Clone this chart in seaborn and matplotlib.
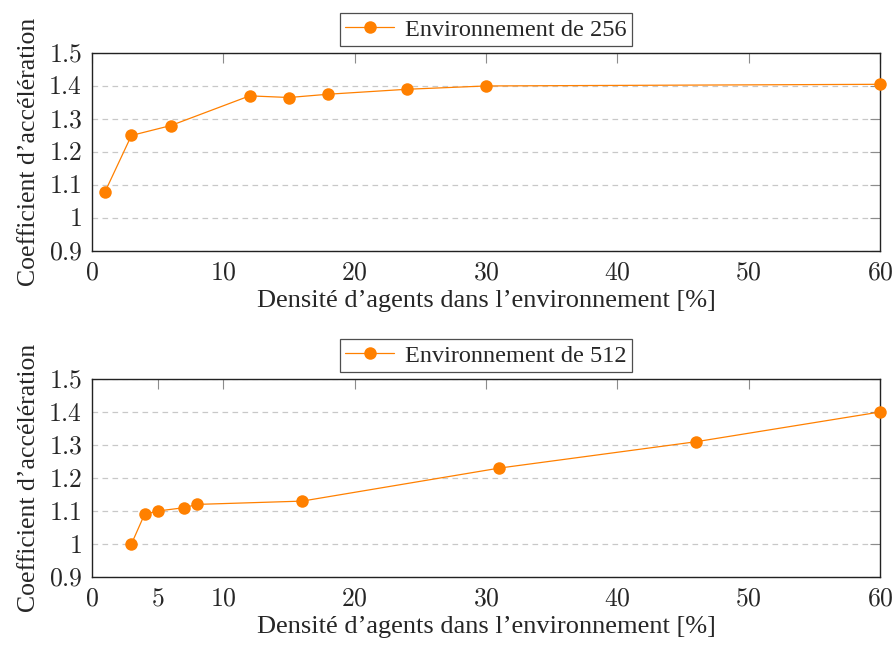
import numpy as np
import matplotlib
matplotlib.use("Agg")
import matplotlib.pyplot as plt
import matplotlib.ticker as mticker
import pandas as pd
import seaborn as sns

# data
x_256 = [1, 3, 6, 12, 15, 18, 24, 30, 60]
y_256 = [1.08, 1.25, 1.28, 1.37, 1.365, 1.375, 1.39, 1.40, 1.405]
x_512 = [3, 4, 5, 7, 8, 16, 31, 46, 60]
y_512 = [1.00, 1.09, 1.10, 1.11, 1.12, 1.13, 1.23, 1.31, 1.40]

labels = ["Environnement de 256", "Environnement de 512"]
xticks_top = [0, 10, 20, 30, 40, 50, 60]
xticks_bottom = [0, 5, 10, 20, 30, 40, 50, 60]
yticks = [0.9, 1.0, 1.1, 1.2, 1.3, 1.4, 1.5]
xlabel = "Densité d’agents dans l’environnement [%]"
ylabel = "Coefficient d’accélération"

sns.set_style("white")
plt.rcParams["font.family"] = ["Liberation Serif", "DejaVu Serif"]
plt.rcParams["mathtext.fontset"] = "cm"

orange = "#ff8000"
fig = plt.figure(figsize=(8.96, 6.45), dpi=100)
ax1 = fig.add_axes([0.1027, 0.6109, 0.8795, 0.307])
ax2 = fig.add_axes([0.1027, 0.1054, 0.8795, 0.307])

fmt = mticker.FuncFormatter(lambda v, p: "$%g$" % round(v, 2))

for ax, xs, ys, lab, xt in [(ax1, x_256, y_256, labels[0], xticks_top),
                            (ax2, x_512, y_512, labels[1], xticks_bottom)]:
    df = pd.DataFrame({"x": xs, "y": ys})
    sns.lineplot(data=df, x="x", y="y", ax=ax, color=orange, marker="o",
                 markersize=9, markeredgewidth=0, linewidth=0.9, label=lab,
                 clip_on=False, zorder=5)
    ax.set_xlim(0, 60)
    ax.set_ylim(0.9, 1.5)
    ax.set_xticks(xt)
    ax.set_yticks(yticks)
    ax.xaxis.set_major_formatter(fmt)
    ax.yaxis.set_major_formatter(fmt)
    ax.tick_params(direction="in", length=7, width=0.8, color="#8c8c8c",
                   top=True, right=True, labelsize=18.5)
    ax.tick_params(axis="y", pad=7)
    ax.tick_params(axis="x", pad=8)
    ax.yaxis.grid(True, linestyle=(0, (4.5, 3.5)), color="#c8c8c8", linewidth=0.9)
    ax.set_axisbelow(True)
    for s in ax.spines.values():
        s.set_color("#222222")
        s.set_linewidth(1.0)
    ax.set_xlabel(xlabel, fontsize=19, labelpad=4)
    ax.set_ylabel(ylabel, fontsize=18.5, labelpad=6)
    leg = ax.legend(loc="lower center", bbox_to_anchor=(0.5, 1.035), fontsize=17.5,
                    frameon=True, fancybox=False, edgecolor="#222222",
                    borderpad=0.22, handlelength=2.0, handletextpad=0.45,
                    borderaxespad=0)
    leg.get_frame().set_linewidth(0.9)

fig.savefig("out.png", dpi=100)
